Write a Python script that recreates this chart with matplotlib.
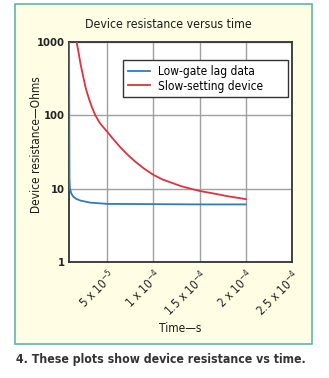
import matplotlib
matplotlib.use("Agg")
import matplotlib.pyplot as plt
from matplotlib.patches import Rectangle
from matplotlib.ticker import FixedLocator, NullLocator

plt.rcParams['font.family'] = ['Liberation Sans Narrow', 'DejaVu Sans']
plt.rcParams['font.stretch'] = 'condensed'
plt.rcParams['mathtext.default'] = 'regular'

# Data (time in seconds, resistance in ohms)
slow_t = [1.68e-5, 1.9e-5, 2.1e-5, 2.3e-5, 2.5e-5, 2.7e-5, 3.0e-5, 3.3e-5, 3.7e-5, 4.2e-5,
          4.97e-5, 5.7e-5, 6.42e-5, 7.2e-5, 8.0e-5, 9.0e-5, 1.0e-4, 1.1e-4, 1.2e-4, 1.3e-4,
          1.4e-4, 1.5e-4, 1.65e-4, 1.8e-4, 2.0e-4]
slow_r = [1000, 700, 500, 380, 290, 225, 170, 132, 100, 78,
          60, 46.5, 36.5, 29, 23.5, 18.7, 15.4, 13.3, 12.0, 10.8,
          10.0, 9.3, 8.6, 7.9, 7.2]

lowgate_t = [0.85e-5, 0.9e-5, 0.95e-5, 1.1e-5, 1.3e-5, 1.6e-5, 2.05e-5, 3.14e-5, 5.0e-5, 1.0e-4, 1.5e-4, 2.0e-4]
lowgate_r = [3000, 14, 10, 8.6, 7.8, 7.3, 6.9, 6.45, 6.2, 6.15, 6.1, 6.1]

xticks = [5e-5, 1e-4, 1.5e-4, 2e-4, 2.5e-4]
xticklabels = ['5 x 10$^{-5}$', '1 x 10$^{-4}$', '1.5 x 10$^{-4}$', '2 x 10$^{-4}$', '2.5 x 10$^{-4}$']
yticks = [1, 10, 100, 1000]
yticklabels = ['1', '10', '100', '1000']

W, H = 329, 378
fig = plt.figure(figsize=(W / 100, H / 100), dpi=100)
fig.patch.set_facecolor('white')

# cream panel with teal border
panel = Rectangle((15 / W, 1 - 344 / H), (312 - 15) / W, (344 - 4) / H,
                  transform=fig.transFigure, facecolor='#fffde3', edgecolor='#5db8ab',
                  linewidth=1.2, zorder=-5)
fig.add_artist(panel)

ax = fig.add_axes([69 / W, 1 - 262 / H, (292 - 69) / W, (262 - 42) / H])
ax.set_zorder(2)
ax.set_facecolor('white')
ax.set_yscale('log')
ax.set_xlim(0.85e-5, 2.5e-4)
ax.set_ylim(1, 1000)

ax.xaxis.set_major_locator(FixedLocator(xticks))
ax.set_xticklabels(xticklabels, rotation=45, ha='right', rotation_mode='anchor',
                   fontsize=8.5, color='#222222')
ax.yaxis.set_major_locator(FixedLocator(yticks))
ax.yaxis.set_minor_locator(NullLocator())
ax.set_yticklabels(yticklabels, fontsize=8, fontweight='bold', color='#222222')
ax.tick_params(axis='both', length=0, pad=3)
ax.tick_params(axis='x', pad=4)

ax.grid(True, color='#a0a0a0', linewidth=1.0)
ax.set_axisbelow(True)
for s in ax.spines.values():
    s.set_color('#333333')
    s.set_linewidth(1.3)

ax.plot(lowgate_t, lowgate_r, color='#2e7bbf', linewidth=1.3, label='Low-gate lag data', zorder=3)
ax.plot(slow_t, slow_r, color='#d9343f', linewidth=1.3, label='Slow-setting device', zorder=3)

# legend box spans pixels x 123..288, y 60..97
lx0 = (123 - 69) / 223
lx1 = (288 - 69) / 223
ly1 = (262 - 60) / 220
ly0 = (262 - 97) / 220
leg = ax.legend(loc='upper left', bbox_to_anchor=(lx0, ly0, lx1 - lx0, ly1 - ly0),
                mode='expand', borderaxespad=0,
                fontsize=8.6, frameon=True, fancybox=False, handlelength=1.9,
                handletextpad=0.6, borderpad=0.4, labelspacing=0.15)
leg.get_frame().set_edgecolor('#333333')
leg.get_frame().set_linewidth(1.0)
leg.get_frame().set_facecolor('white')
leg.get_frame().set_alpha(1)

fig.text(168 / W, 1 - 24 / H, 'Device resistance versus time', ha='center', va='center',
         fontsize=8.8, color='#1a1a1a')
fig.text(37 / W, 1 - 145 / H, 'Device resistance\u2014Ohms', ha='center', va='center',
         rotation=90, fontsize=8.6, color='#1a1a1a')
fig.text(180 / W, 1 - 328 / H, 'Time\u2014s', ha='center', va='center',
         fontsize=8.6, color='#1a1a1a')
fig.text(16 / W, 1 - 359 / H, '4. These plots show device resistance vs time.',
         ha='left', va='center', fontsize=8.8, fontweight='bold', color='#333333')

fig.savefig('out.png', dpi=100, facecolor='white')
